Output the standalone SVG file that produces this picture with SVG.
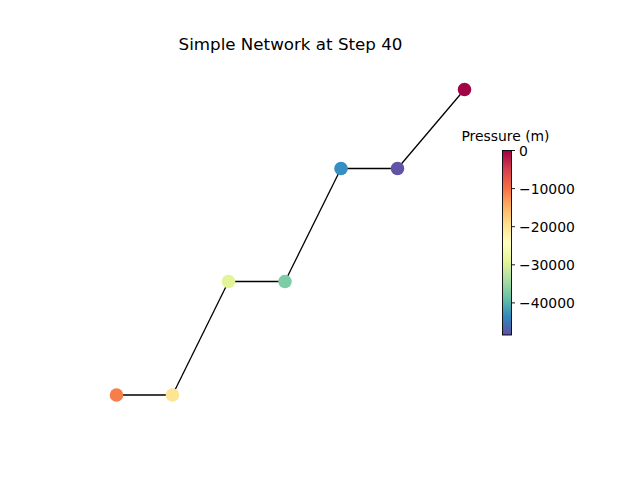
<svg xmlns="http://www.w3.org/2000/svg" width="640" height="480" viewBox="0 0 640 480">
<defs>
<linearGradient id="spec" x1="0" y1="0" x2="0" y2="1">
<stop offset="0" stop-color="#9e0142"/>
<stop offset="0.1" stop-color="#d53e4f"/>
<stop offset="0.2" stop-color="#f46d43"/>
<stop offset="0.3" stop-color="#fdae61"/>
<stop offset="0.4" stop-color="#fee08b"/>
<stop offset="0.5" stop-color="#ffffbf"/>
<stop offset="0.6" stop-color="#e6f598"/>
<stop offset="0.7" stop-color="#abdda4"/>
<stop offset="0.8" stop-color="#66c2a5"/>
<stop offset="0.9" stop-color="#3288bd"/>
<stop offset="1" stop-color="#5e4fa2"/>
</linearGradient>
<style>
text{font-family:"DejaVu Sans",sans-serif;fill:#000}
.edge{stroke:#000;stroke-width:1.3;fill:none}
.node{stroke:none}
.tick{stroke:#000;stroke-width:0.9}
.tl{font-size:13.9px}
</style>
</defs>
<rect width="640" height="480" fill="#fff"/>
<text x="290.5" y="50" text-anchor="middle" font-size="16.7px">Simple Network at Step 40</text>
<g id="connectors">
<line class="edge" x1="116.5" y1="395" x2="172.5" y2="395"/>
<line class="edge" x1="172.5" y1="395" x2="228.5" y2="281.5"/>
<line class="edge" x1="228.5" y1="281.5" x2="285" y2="281.5"/>
<line class="edge" x1="285" y1="281.5" x2="341" y2="168.5"/>
<line class="edge" x1="341" y1="168.5" x2="397.5" y2="168.5"/>
<line class="edge" x1="397.5" y1="168.5" x2="464.5" y2="89.5"/>
</g>
<g id="n1"><circle class="node" cx="116.5" cy="395" r="6.8" fill="#f67e4b"/></g>
<g id="n2"><circle class="node" cx="172.5" cy="395" r="6.8" fill="#fee593"/></g>
<g id="n3"><circle class="node" cx="228.5" cy="281.5" r="6.8" fill="#e3f399"/></g>
<g id="n4"><circle class="node" cx="285" cy="281.5" r="6.8" fill="#7ccca5"/></g>
<g id="n5"><circle class="node" cx="341" cy="168.5" r="6.8" fill="#358fc0"/></g>
<g id="n6"><circle class="node" cx="397.5" cy="168.5" r="6.8" fill="#6153a6"/></g>
<g id="n7"><circle class="node" cx="464.5" cy="89.5" r="6.8" fill="#a00544"/></g>
<g id="colorbar">
<rect x="502.5" y="150.5" width="9" height="184.5" fill="url(#spec)" stroke="#000" stroke-width="0.9"/>
<line class="tick" x1="511.5" y1="150.5" x2="515" y2="150.5"/>
<line class="tick" x1="511.5" y1="188.6" x2="515" y2="188.6"/>
<line class="tick" x1="511.5" y1="226.7" x2="515" y2="226.7"/>
<line class="tick" x1="511.5" y1="264.8" x2="515" y2="264.8"/>
<line class="tick" x1="511.5" y1="302.9" x2="515" y2="302.9"/>
<text class="tl" x="519" y="155.5">0</text>
<text class="tl" x="519" y="193.6">−10000</text>
<text class="tl" x="519" y="231.7">−20000</text>
<text class="tl" x="519" y="269.8">−30000</text>
<text class="tl" x="519" y="307.9">−40000</text>
<text class="tl" x="505.5" y="141" text-anchor="middle" font-size="12.5px">Pressure (m)</text>
</g>
</svg>
